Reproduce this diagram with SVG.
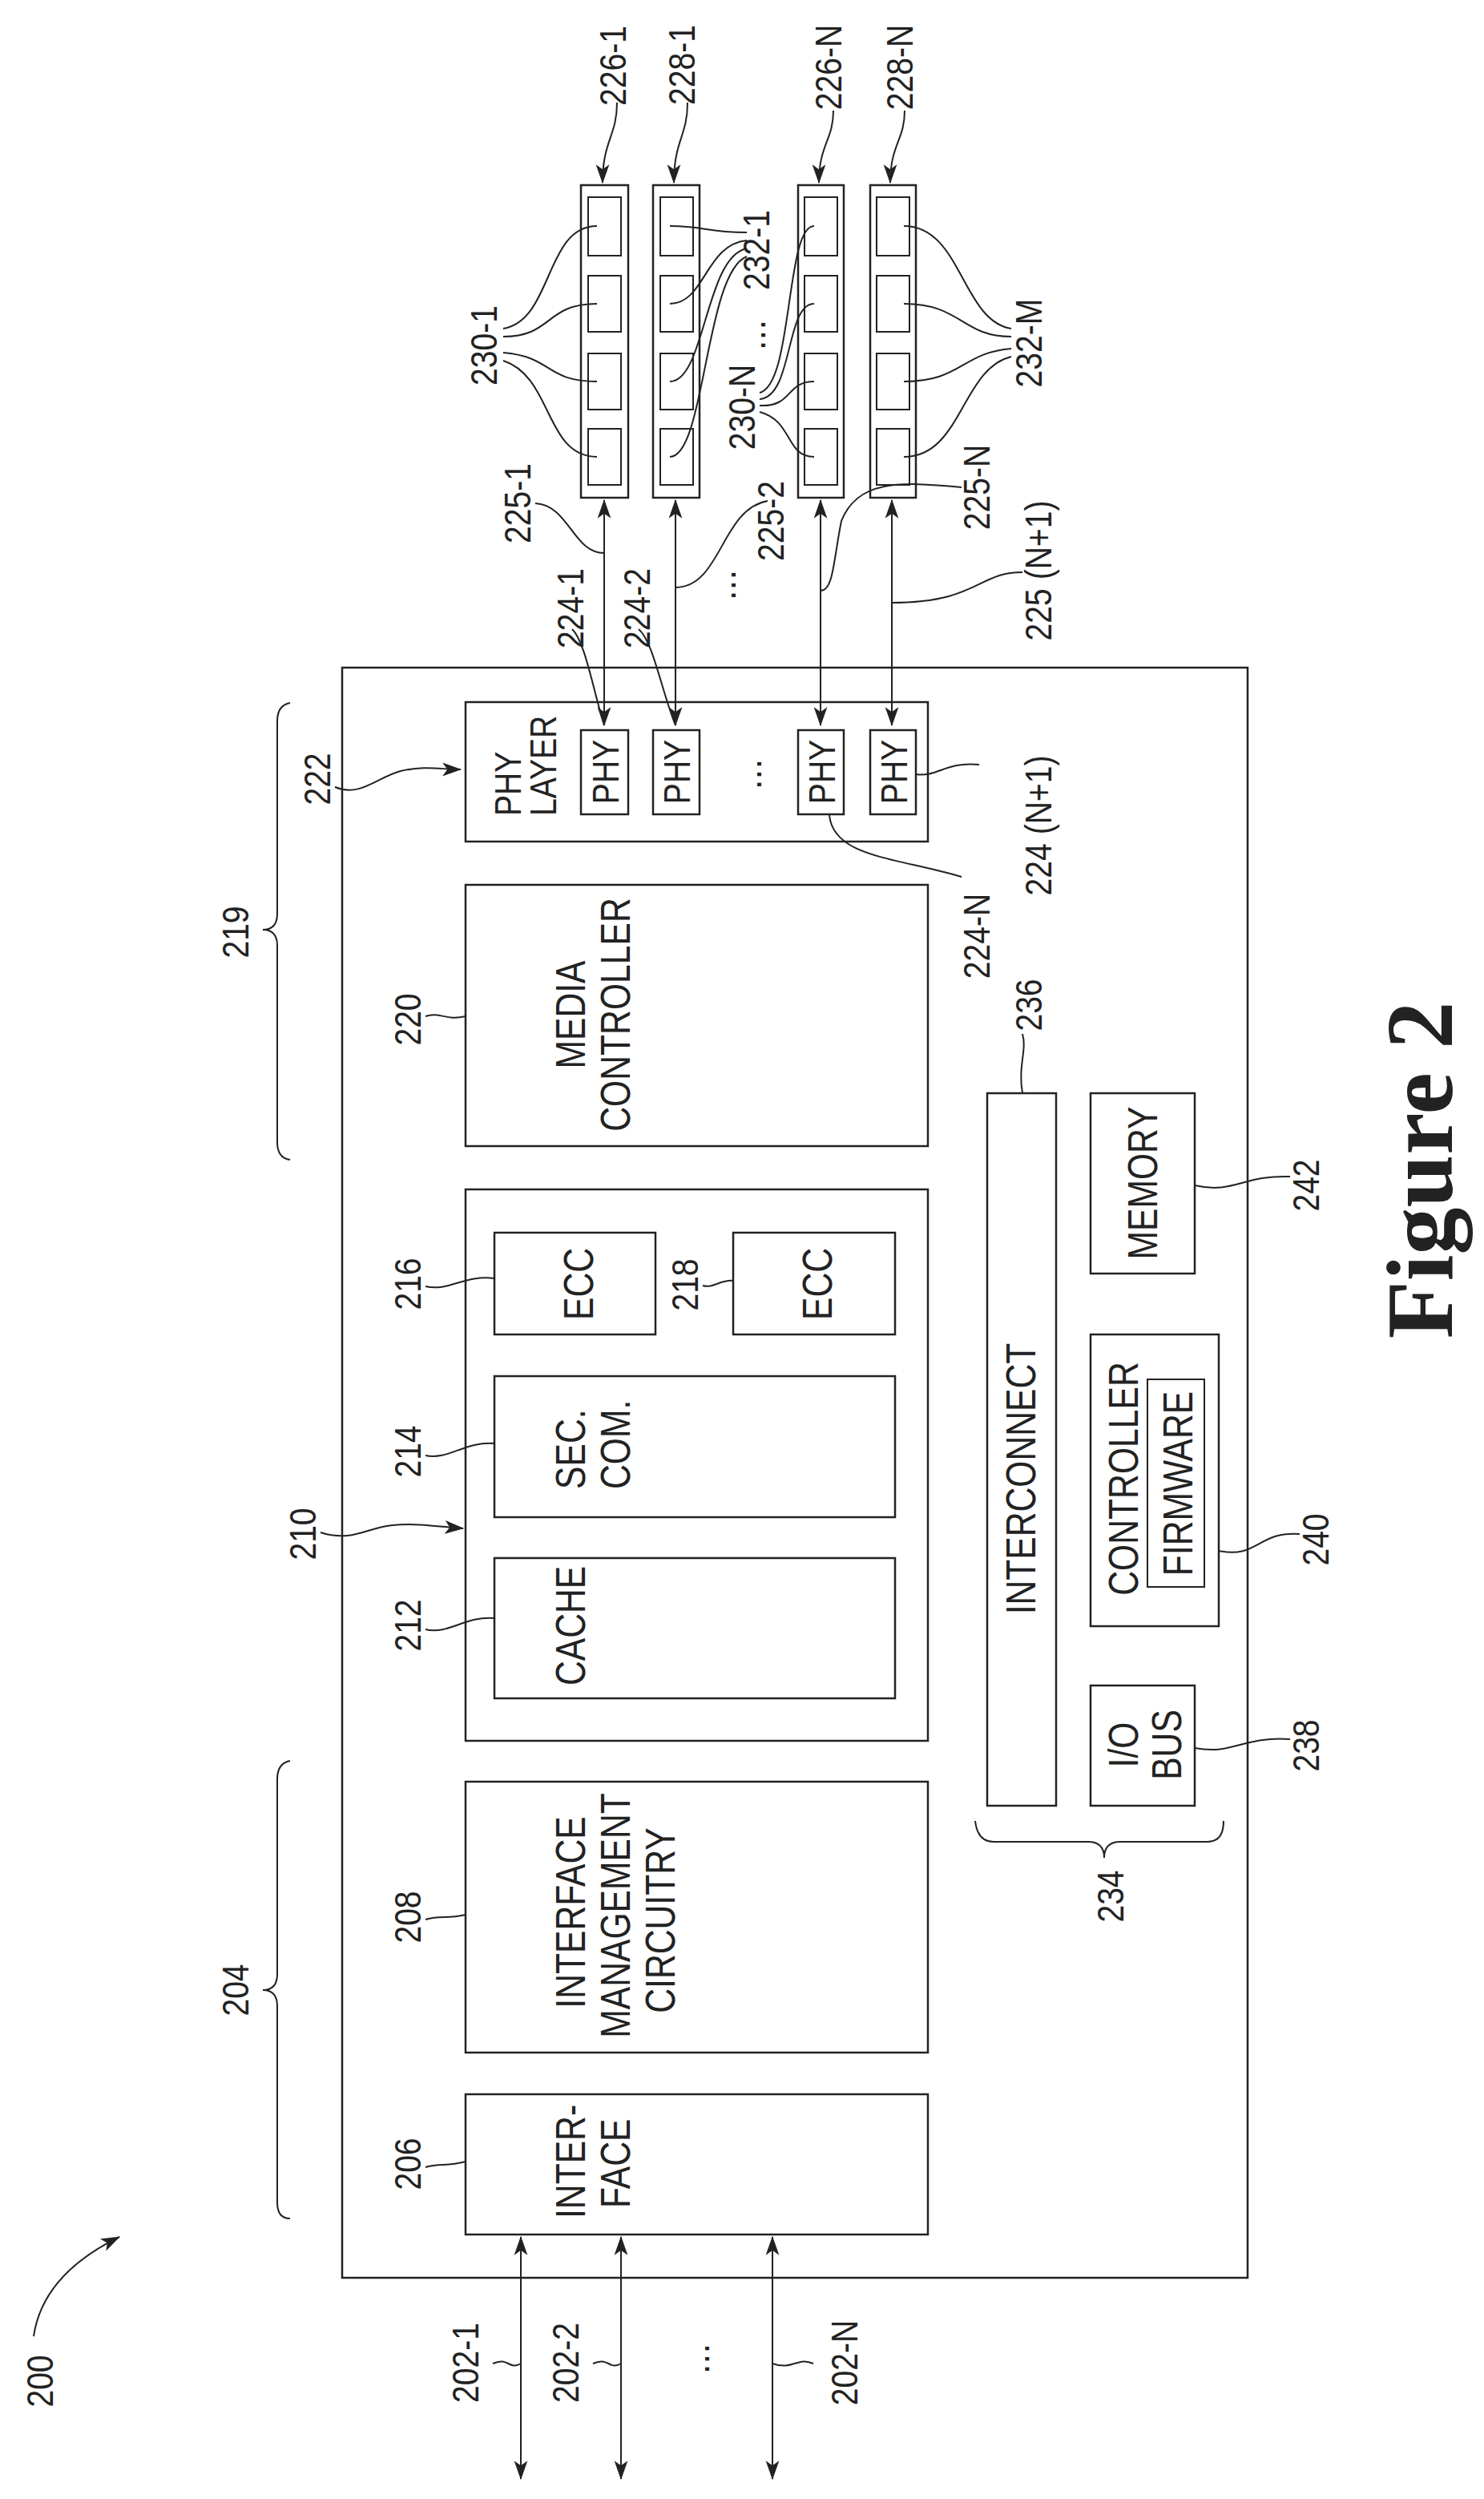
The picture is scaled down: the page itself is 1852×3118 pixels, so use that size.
<svg xmlns="http://www.w3.org/2000/svg" width="1852" height="3118" viewBox="0 0 1852 3118">
<style>
.b{fill:none;stroke:#222;stroke-width:2.5}
.l{fill:none;stroke:#222;stroke-width:2}
.t{font-family:"Liberation Sans",Arial,sans-serif;font-size:46px;fill:#222;text-anchor:middle}
.s{text-anchor:start}
.f{font-family:"Liberation Serif","Times New Roman",serif;font-weight:bold;font-size:118px;fill:#222;text-anchor:middle}
</style>
<defs>
<marker id="a" viewBox="0 0 12 12" refX="11" refY="6" markerWidth="12" markerHeight="12" markerUnits="userSpaceOnUse" orient="auto-start-reverse"><path d="M0,1 L12,6 L0,11 L3,6 Z" fill="#222"/></marker>
<marker id="A" viewBox="0 0 20 16" refX="19" refY="8" markerWidth="24" markerHeight="20" markerUnits="userSpaceOnUse" orient="auto-start-reverse"><path d="M0,1 L20,8 L0,15 L5,8 Z" fill="#222"/></marker>
</defs>
<rect width="1852" height="3118" fill="#fff"/>

<g id="main"><rect class="b" x="427" y="833" width="1130" height="2009"/></g>

<g id="n222"><rect class="b" x="581" y="876" width="577" height="174"/>
<text class="t" transform="translate(650,1018) rotate(-90) scale(0.85,1)" style="text-anchor:start">PHY</text>
<text class="t" transform="translate(694,1018) rotate(-90) scale(0.85,1)" style="text-anchor:start">LAYER</text>
<text class="t" transform="translate(412,972) rotate(-90) scale(0.85,1)">222</text></g>
<g id="phy1"><rect class="b" x="725" y="911" width="59" height="105"/><text class="t" transform="translate(772,963) rotate(-90) scale(0.85,1)">PHY</text></g>
<g id="phy2"><rect class="b" x="815" y="911" width="58" height="105"/><text class="t" transform="translate(861,963) rotate(-90) scale(0.85,1)">PHY</text></g>
<g id="phyN"><rect class="b" x="996" y="911" width="57" height="105"/><text class="t" transform="translate(1042,963) rotate(-90) scale(0.85,1)">PHY</text></g>
<g id="phyN1"><rect class="b" x="1086" y="911" width="57" height="105"/><text class="t" transform="translate(1132,963) rotate(-90) scale(0.85,1)">PHY</text></g>
<text class="t" transform="translate(950,966) rotate(-90)">...</text>

<g id="s226-1"><rect class="b" x="725" y="231" width="59" height="390"/>
<rect class="l" x="734" y="246" width="41" height="73"/><rect class="l" x="734" y="344" width="41" height="70"/><rect class="l" x="734" y="441" width="41" height="70"/><rect class="l" x="734" y="535" width="41" height="70"/></g>
<g id="s228-1"><rect class="b" x="815" y="231" width="58" height="390"/>
<rect class="l" x="824" y="246" width="41" height="73"/><rect class="l" x="824" y="344" width="41" height="70"/><rect class="l" x="824" y="441" width="41" height="70"/><rect class="l" x="824" y="535" width="41" height="70"/></g>
<g id="s226-N"><rect class="b" x="996" y="231" width="57" height="390"/>
<rect class="l" x="1004" y="246" width="41" height="73"/><rect class="l" x="1004" y="344" width="41" height="70"/><rect class="l" x="1004" y="441" width="41" height="70"/><rect class="l" x="1004" y="535" width="41" height="70"/></g>
<g id="s228-N"><rect class="b" x="1086" y="231" width="57" height="390"/>
<rect class="l" x="1094" y="246" width="41" height="73"/><rect class="l" x="1094" y="344" width="41" height="70"/><rect class="l" x="1094" y="441" width="41" height="70"/><rect class="l" x="1094" y="535" width="41" height="70"/></g>

<g id="n220"><rect class="b" x="581" y="1104" width="577" height="326"/>
<text class="t" transform="translate(730,1266) rotate(-90) scale(0.82,1)" style="font-size:52px">MEDIA</text>
<text class="t" transform="translate(786,1266) rotate(-90) scale(0.82,1)" style="font-size:52px">CONTROLLER</text>
<text class="t" transform="translate(525,1272) rotate(-90) scale(0.85,1)">220</text></g>

<g id="n210"><rect class="b" x="581" y="1484" width="577" height="688"/>
<text class="t" transform="translate(394,1914) rotate(-90) scale(0.85,1)">210</text></g>
<g id="n216"><rect class="b" x="617" y="1538" width="201" height="127"/>
<text class="t" transform="translate(740,1602) rotate(-90) scale(0.82,1)" style="font-size:52px">ECC</text>
<text class="t" transform="translate(525,1602) rotate(-90) scale(0.85,1)">216</text></g>
<g id="n218"><rect class="b" x="915" y="1538" width="202" height="127"/>
<text class="t" transform="translate(1038,1602) rotate(-90) scale(0.82,1)" style="font-size:52px">ECC</text>
<text class="t" transform="translate(871,1603) rotate(-90) scale(0.85,1)">218</text></g>
<g id="n214"><rect class="b" x="617" y="1717" width="500" height="176"/>
<text class="t" transform="translate(730,1858) rotate(-90) scale(0.82,1)" style="font-size:52px;text-anchor:start">SEC.</text>
<text class="t" transform="translate(786,1858) rotate(-90) scale(0.82,1)" style="font-size:52px;text-anchor:start">COM.</text>
<text class="t" transform="translate(525,1811) rotate(-90) scale(0.85,1)">214</text></g>
<g id="n212"><rect class="b" x="617" y="1944" width="500" height="175"/>
<text class="t" transform="translate(730,2103) rotate(-90) scale(0.82,1)" style="font-size:52px;text-anchor:start">CACHE</text>
<text class="t" transform="translate(525,2028) rotate(-90) scale(0.85,1)">212</text></g>

<g id="n208"><rect class="b" x="581" y="2223" width="577" height="338"/>
<text class="t" transform="translate(730,2386) rotate(-90) scale(0.82,1)" style="font-size:52px">INTERFACE</text>
<text class="t" transform="translate(786,2390) rotate(-90) scale(0.82,1)" style="font-size:52px">MANAGEMENT</text>
<text class="t" transform="translate(842,2396) rotate(-90) scale(0.82,1)" style="font-size:52px">CIRCUITRY</text>
<text class="t" transform="translate(525,2392) rotate(-90) scale(0.85,1)">208</text></g>
<g id="n206"><rect class="b" x="581" y="2613" width="577" height="175"/>
<text class="t" transform="translate(730,2768) rotate(-90) scale(0.82,1)" style="font-size:52px;text-anchor:start">INTER-</text>
<text class="t" transform="translate(786,2755) rotate(-90) scale(0.82,1)" style="font-size:52px;text-anchor:start">FACE</text>
<text class="t" transform="translate(525,2700) rotate(-90) scale(0.85,1)">206</text></g>

<g id="n236"><rect class="b" x="1232" y="1364" width="86" height="889"/>
<text class="t" transform="translate(1292,1845) rotate(-90) scale(0.82,1)" style="font-size:52px">INTERCONNECT</text>
<text class="t" transform="translate(1300,1254) rotate(-90) scale(0.85,1)">236</text></g>
<g id="n242"><rect class="b" x="1361" y="1364" width="130" height="225"/>
<text class="t" transform="translate(1444,1476) rotate(-90) scale(0.82,1)" style="font-size:52px">MEMORY</text>
<text class="t" transform="translate(1646,1479) rotate(-90) scale(0.85,1)">242</text></g>
<g id="n240"><rect class="b" x="1361" y="1665" width="160" height="364"/>
<rect class="l" x="1432" y="1721" width="71" height="259"/>
<text class="t" transform="translate(1420,1845) rotate(-90) scale(0.82,1)" style="font-size:52px">CONTROLLER</text>
<text class="t" transform="translate(1488,1851) rotate(-90) scale(0.82,1)" style="font-size:52px">FIRMWARE</text>
<text class="t" transform="translate(1658,1921) rotate(-90) scale(0.85,1)">240</text></g>
<g id="n238"><rect class="b" x="1361" y="2103" width="130" height="150"/>
<text class="t" transform="translate(1420,2177) rotate(-90) scale(0.82,1)" style="font-size:52px">I/O</text>
<text class="t" transform="translate(1474,2177) rotate(-90) scale(0.82,1)" style="font-size:52px">BUS</text>
<text class="t" transform="translate(1646,2178) rotate(-90) scale(0.85,1)">238</text></g>

<g id="labels">
<text class="t" transform="translate(781,82) rotate(-90) scale(0.85,1)">226-1</text>
<text class="t" transform="translate(867,81) rotate(-90) scale(0.85,1)">228-1</text>
<text class="t" transform="translate(1050,84) rotate(-90) scale(0.85,1)">226-N</text>
<text class="t" transform="translate(1139,84) rotate(-90) scale(0.85,1)">228-N</text>
<text class="t" transform="translate(310,1163) rotate(-90) scale(0.85,1)">219</text>
<text class="t" transform="translate(310,2483) rotate(-90) scale(0.85,1)">204</text>
<text class="t" transform="translate(1402,2366) rotate(-90) scale(0.85,1)">234</text>
<text class="t" transform="translate(1235,1168) rotate(-90) scale(0.85,1)">224-N</text>
<text class="t" transform="translate(1312,1030) rotate(-90) scale(0.85,1)">224 (N+1)</text>
<text class="t" transform="translate(1312,712) rotate(-90) scale(0.85,1)">225 (N+1)</text>
<text class="t" transform="translate(1235,608) rotate(-90) scale(0.85,1)">225-N</text>
<text class="t" transform="translate(978,650) rotate(-90) scale(0.85,1)">225-2</text>
<text class="t" transform="translate(662,628) rotate(-90) scale(0.85,1)">225-1</text>
<text class="t" transform="translate(728,759) rotate(-90) scale(0.85,1)">224-1</text>
<text class="t" transform="translate(811,759) rotate(-90) scale(0.85,1)">224-2</text>
<text class="t" transform="translate(918,730) rotate(-90)">...</text>
<text class="t" transform="translate(620,431) rotate(-90) scale(0.85,1)">230-1</text>
<text class="t" transform="translate(960,312) rotate(-90) scale(0.85,1)">232-1</text>
<text class="t" transform="translate(942,508) rotate(-90) scale(0.85,1)">230-N</text>
<text class="t" transform="translate(955,418) rotate(-90)">...</text>
<text class="t" transform="translate(1300,428) rotate(-90) scale(0.85,1)">232-M</text>
<text class="t" transform="translate(597,2948) rotate(-90) scale(0.85,1)">202-1</text>
<text class="t" transform="translate(722,2948) rotate(-90) scale(0.85,1)">202-2</text>
<text class="t" transform="translate(1070,2948) rotate(-90) scale(0.85,1)">202-N</text>
<text class="t" transform="translate(885,2943) rotate(-90)">...</text>
<text class="t" transform="translate(66,2971) rotate(-90) scale(0.85,1)">200</text>
<text class="f" transform="translate(1812,1460) rotate(-90)">Figure 2</text>
</g>

<g id="connectors">
<path class="l" d="M754,905 V624" marker-start="url(#A)" marker-end="url(#A)"/>
<path class="l" d="M843,905 V624" marker-start="url(#A)" marker-end="url(#A)"/>
<path class="l" d="M1024,905 V624" marker-start="url(#A)" marker-end="url(#A)"/>
<path class="l" d="M1113,905 V624" marker-start="url(#A)" marker-end="url(#A)"/>
<path class="l" d="M650,2791 V3093" marker-start="url(#A)" marker-end="url(#A)"/>
<path class="l" d="M775,2791 V3093" marker-start="url(#A)" marker-end="url(#A)"/>
<path class="l" d="M964,2791 V3093" marker-start="url(#A)" marker-end="url(#A)"/>
<path class="l" d="M770,128 C770,170 752,175 752,228" marker-end="url(#A)"/>
<path class="l" d="M858,128 C858,170 841,175 841,228" marker-end="url(#A)"/>
<path class="l" d="M1040,138 C1040,175 1022,180 1022,228" marker-end="url(#A)"/>
<path class="l" d="M1129,138 C1129,175 1111,180 1111,228" marker-end="url(#A)"/>
<path class="l" d="M418,982 C450,995 470,970 500,962 C530,955 550,960 575,960" marker-end="url(#A)"/>
<path class="l" d="M400,1912 C440,1925 460,1905 490,1903 C520,1900 550,1905 578,1907" marker-end="url(#A)"/>
<path class="l" d="M42,2915 C50,2860 90,2820 149,2791" marker-end="url(#A)"/>
<path class="l" d="M362,877 Q346,880 346,900 V1140 Q346,1160 328,1160 Q346,1160 346,1180 V1425 Q346,1445 362,1447"/>
<path class="l" d="M362,2197 Q346,2200 346,2220 V2463 Q346,2483 328,2483 Q346,2483 346,2503 V2748 Q346,2768 362,2768"/>
<path class="l" d="M1217,2272 Q1220,2298 1240,2298 H1358 Q1378,2298 1378,2318 Q1378,2298 1398,2298 H1507 Q1527,2298 1527,2272"/>
<path class="l" d="M531,1268 C550,1262 556,1274 581,1268"/>
<path class="l" d="M531,1605 C560,1612 580,1590 617,1595"/>
<path class="l" d="M877,1604 C890,1608 900,1596 915,1598"/>
<path class="l" d="M531,1816 C560,1822 580,1798 617,1801"/>
<path class="l" d="M531,2033 C560,2040 580,2016 617,2019"/>
<path class="l" d="M531,2395 C550,2389 556,2395 581,2389"/>
<path class="l" d="M531,2704 C550,2698 556,2704 581,2697"/>
<path class="l" d="M1276,1290 C1282,1310 1270,1330 1276,1364"/>
<path class="l" d="M1491,1479 C1540,1490 1550,1466 1610,1468"/>
<path class="l" d="M1521,1935 C1570,1945 1570,1910 1622,1914"/>
<path class="l" d="M1491,2181 C1540,2190 1550,2166 1610,2170"/>
<path class="l" d="M615,2949 C635,2940 635,2958 650,2949"/>
<path class="l" d="M740,2949 C760,2940 760,2958 775,2949"/>
<path class="l" d="M1015,2949 C995,2940 990,2958 964,2949"/>
<path class="l" d="M714,785 C730,800 740,860 754,905"/>
<path class="l" d="M797,785 C815,800 825,860 843,905"/>
<path class="l" d="M1143,966 C1170,970 1180,950 1222,954"/>
<path class="l" d="M1035,1017 C1040,1070 1120,1070 1200,1094"/>
<path class="l" d="M668,628 C710,630 715,690 754,690"/>
<path class="l" d="M958,625 C900,635 900,733 843,733"/>
<path class="l" d="M1200,608 C1120,600 1070,600 1050,650 C1040,700 1040,737 1024,737"/>
<path class="l" d="M1276,714 C1220,714 1220,752 1113,752"/>
<path class="l" d="M628,410 C690,400 680,282 745,282 M628,420 C690,420 680,379 745,379 M628,440 C690,445 680,476 745,476 M628,450 C690,470 680,570 745,570"/>
<path class="l" d="M932,290 C880,290 880,282 836,282 M932,300 C880,305 880,379 836,379 M932,310 C880,320 880,476 836,476 M932,320 C880,340 880,570 836,570"/>
<path class="l" d="M948,490 C990,480 980,282 1016,282 M948,498 C990,495 980,379 1016,379 M948,506 C990,508 980,476 1016,476 M948,514 C990,525 980,570 1016,570"/>
<path class="l" d="M1262,410 C1200,400 1200,282 1128,282 M1262,420 C1200,420 1200,379 1128,379 M1262,435 C1200,440 1200,476 1128,476 M1262,445 C1200,460 1200,570 1128,570"/>
</g>
</svg>
